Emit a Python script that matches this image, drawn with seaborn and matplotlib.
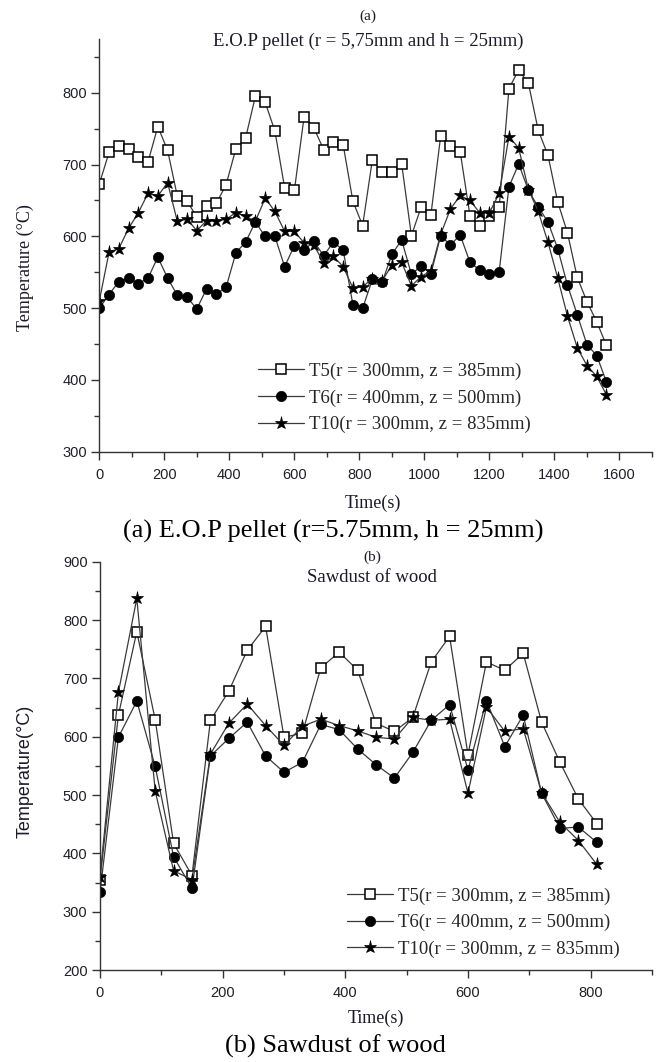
import numpy as np
import pandas as pd
import matplotlib
matplotlib.use("Agg")
import matplotlib.pyplot as plt
from matplotlib.ticker import MultipleLocator
import seaborn as sns

# ---------------- data ----------------
time_a = list(range(0, 1561, 30))
t5_a = [673, 717, 726, 722, 711, 704, 753, 720, 656, 649,
        627, 643, 646, 672, 722, 737, 795, 787, 747, 668,
        664, 767, 751, 721, 731, 728, 649, 615, 707, 689,
        689, 701, 601, 641, 630, 740, 726, 718, 629, 614,
        628, 641, 806, 832, 813, 748, 713, 648, 605, 543,
        509, 481, 448]
t6_a = [500, 519, 537, 542, 534, 542, 571, 542, 518, 515,
        499, 527, 520, 529, 577, 592, 620, 600, 600, 558,
        587, 581, 593, 573, 592, 581, 505, 500, 540, 536,
        575, 595, 547, 559, 548, 601, 588, 602, 564, 553,
        547, 551, 669, 701, 664, 641, 620, 583, 532, 491,
        449, 434, 397]
t10_a = [510, 578, 583, 611, 633, 660, 656, 675, 621, 624,
         608, 622, 621, 624, 633, 628, 621, 653, 635, 607,
         607, 591, 588, 563, 572, 558, 528, 530, 541, 538,
         560, 564, 531, 544, 552, 603, 638, 657, 650, 633,
         633, 660, 739, 723, 665, 635, 592, 542, 489, 445,
         420, 405, 379]

time_b = list(range(0, 811, 30))
t5_b = [355, 637, 780, 629, 417, 362, 628, 678, 748, 789,
        599, 606, 718, 745, 714, 623, 609, 633, 728, 772,
        569, 728, 714, 743, 625, 556, 493, 451]
t6_b = [333, 599, 661, 549, 394, 340, 567, 597, 625, 567,
        539, 556, 621, 612, 579, 552, 529, 573, 628, 655,
        543, 662, 583, 637, 503, 443, 445, 419]
t10_b = [360, 676, 837, 507, 370, 355, 570, 623, 656, 619,
         585, 618, 630, 619, 610, 599, 596, 633, 628, 630,
         503, 651, 609, 614, 504, 453, 422, 381]

labels = ["T5(r = 300mm, z = 385mm)",
          "T6(r = 400mm, z = 500mm)",
          "T10(r = 300mm, z = 835mm)"]

# ---------------- style ----------------
sns.set_style("ticks")
plt.rcParams["font.family"] = ["Liberation Serif", "DejaVu Serif"]
plt.rcParams["axes.edgecolor"] = "#333333"
plt.rcParams["axes.linewidth"] = 1.0

W, H = 663, 1062
fig = plt.figure(figsize=(W / 100, H / 100), dpi=100)

def fx(px):
    return px / W

def fy(py):
    return 1 - py / H

SERIF = ["Liberation Serif", "DejaVu Serif"]
SANS = ["Liberation Sans", "DejaVu Sans"]

styles = [
    dict(marker="s", markersize=6.5, markerfacecolor="white",
         markeredgecolor="black", markeredgewidth=1.1),
    dict(marker="o", markersize=7.4, markerfacecolor="black",
         markeredgecolor="black", markeredgewidth=0.5),
    dict(marker="*", markersize=9.5, markerfacecolor="black",
         markeredgecolor="black", markeredgewidth=0.5),
]


def draw(ax, t, series, xlim, ylim, xmaj, leg_x, leg_y):
    for vals, lab, st in zip(series, labels, styles):
        df = pd.DataFrame({"t": t, "T": vals})
        sns.lineplot(data=df, x="t", y="T", ax=ax, color="#3a3a3a",
                     linewidth=0.9, label=lab, **st)
    ax.xaxis.set_major_locator(MultipleLocator(xmaj))
    ax.xaxis.set_minor_locator(MultipleLocator(xmaj / 2))
    ax.yaxis.set_major_locator(MultipleLocator(100))
    ax.yaxis.set_minor_locator(MultipleLocator(50))
    ax.set_xticks([v for v in range(xlim[0], xlim[1], xmaj)])
    ax.set_xlim(*xlim)
    ax.set_ylim(*ylim)
    ax.set_xlabel("")
    ax.set_ylabel("")
    for s in ["top", "right"]:
        ax.spines[s].set_visible(False)
    ax.tick_params(axis="both", which="major", direction="out", length=6,
                   width=1.0, color="#333333", labelsize=10.5,
                   labelcolor="#1f1f2a")
    ax.tick_params(axis="both", which="minor", direction="out", length=3.5,
                   width=1.0, color="#333333")
    ax.tick_params(axis="x", which="major", pad=5.5)
    ax.tick_params(axis="y", which="major", pad=3)
    for lbl in ax.get_xticklabels() + ax.get_yticklabels():
        lbl.set_family(SANS)
    leg = ax.legend(loc="center left", bbox_to_anchor=(fx(leg_x), fy(leg_y)),
                    bbox_transform=fig.transFigure, frameon=False,
                    handlelength=2.45, handletextpad=0.25, labelspacing=0.5,
                    borderpad=0, borderaxespad=0,
                    prop={"family": SERIF, "size": 13.5})
    return leg


# top axes: x 99.3..652 px, y 39..451.7 px
ax1 = fig.add_axes([fx(99.3), fy(451.7), fx(652) - fx(99.3), (451.7 - 39) / H])
draw(ax1, time_a, [t5_a, t6_a, t10_a], (0, 1700), (300, 875), 200, 258, 398)

# bottom axes: x 100..652 px, y 561.7..970 px
ax2 = fig.add_axes([fx(100), fy(970), fx(652) - fx(100), (970 - 561.7) / H])
draw(ax2, time_b, [t5_b, t6_b, t10_b], (0, 900), (200, 900), 200, 347, 922.7)

# ---------------- texts ----------------
fig.text(fx(368), fy(16.5), "(a)", ha="center", va="center",
         family=SERIF, fontsize=11, color="#1a1a2a")
fig.text(fx(368), fy(41.5), "E.O.P pellet (r = 5,75mm and h = 25mm)",
         ha="center", va="center", family=SERIF, fontsize=13.5,
         color="#1a1a2a")
fig.text(fx(25), fy(268), "Temperature (°C)", rotation=90, ha="center",
         va="center", family=SERIF, fontsize=13, color="#1a1a2a")
fig.text(fx(373), fy(503), "Time(s)", ha="center", va="center",
         family=SERIF, fontsize=13, color="#1a1a2a")
fig.text(fx(333), fy(531), "(a) E.O.P pellet (r=5.75mm, h = 25mm)",
         ha="center", va="center", family=SERIF, fontsize=19,
         color="black")

fig.text(fx(372), fy(557), "(b)", ha="center", va="center",
         family=SERIF, fontsize=11, color="#1a1a2a")
fig.text(fx(372), fy(578), "Sawdust of wood", ha="center", va="center",
         family=SERIF, fontsize=13.5, color="#1a1a2a")
fig.text(fx(25), fy(771), "Temperature(°C)", rotation=90, ha="center",
         va="center", family=SANS, fontsize=13, color="#1a1a2a")
fig.text(fx(376), fy(1018), "Time(s)", ha="center", va="center",
         family=SERIF, fontsize=13, color="#1a1a2a")
fig.text(fx(335), fy(1046), "(b) Sawdust of wood", ha="center",
         va="center", family=SERIF, fontsize=19, color="black")

fig.savefig("out.png", dpi=100)
